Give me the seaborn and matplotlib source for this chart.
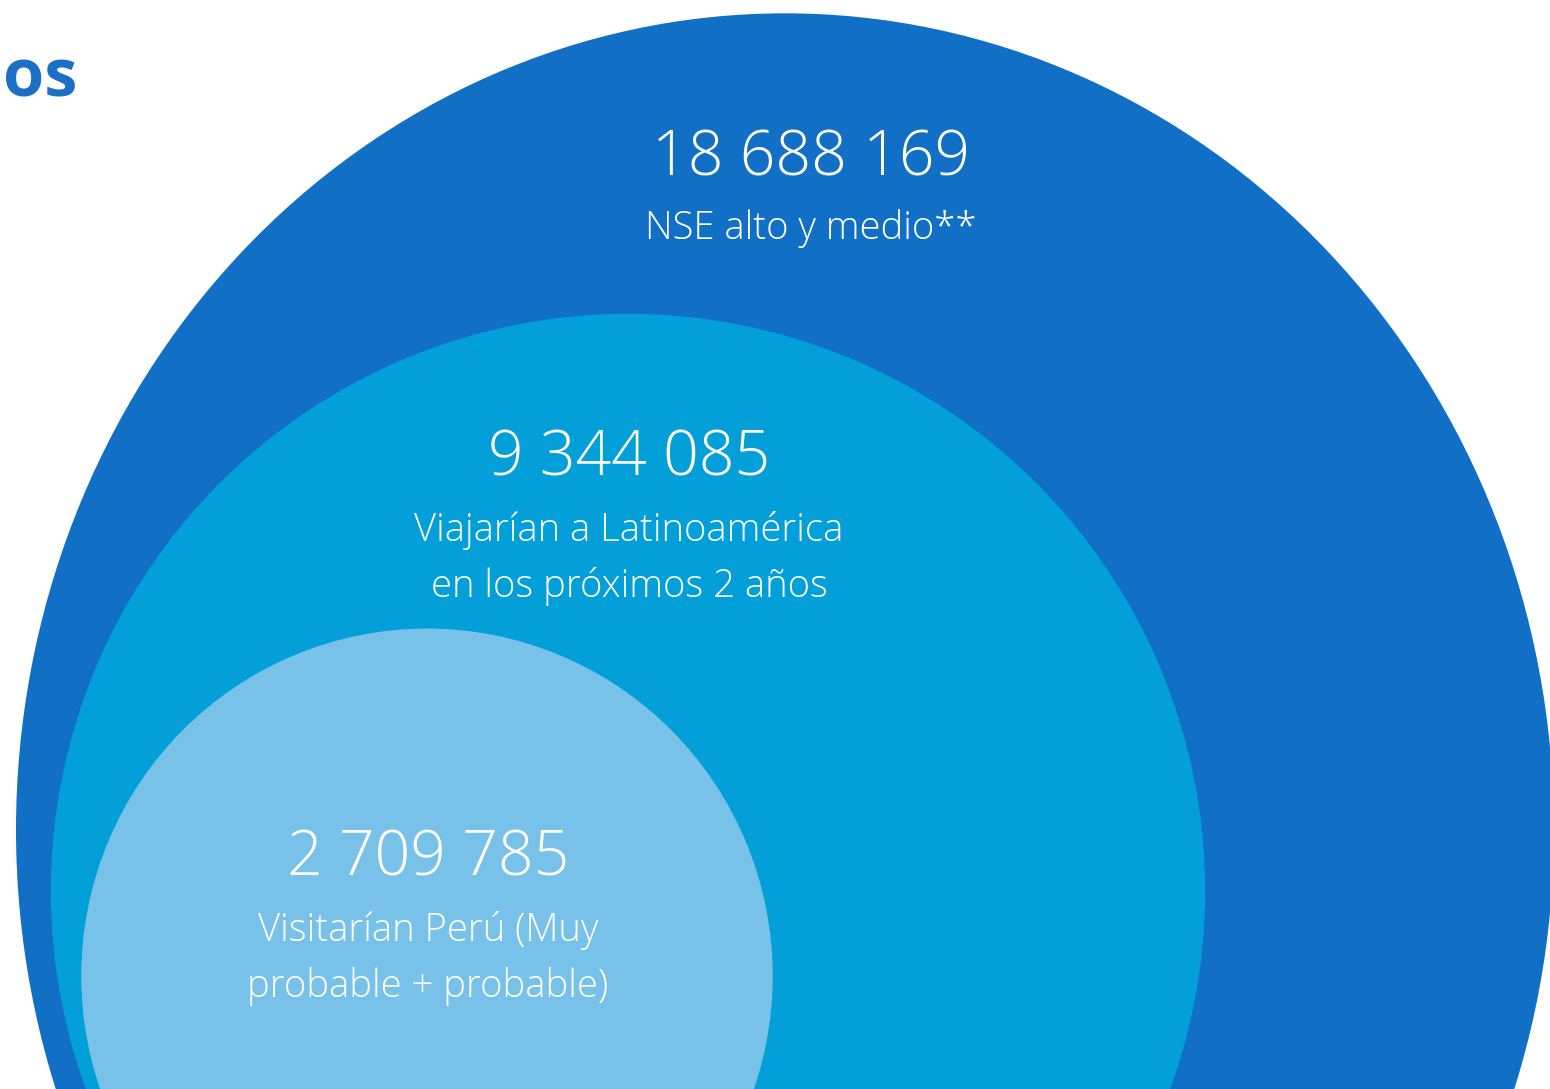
import matplotlib
matplotlib.use("Agg")
import matplotlib.pyplot as plt
from matplotlib.patches import Ellipse
import seaborn as sns

# data
values = [18688169, 9344085, 2709785]
labels = ["NSE alto y medio**",
          "Viajarían a Latinoamérica\nen los próximos 2 años",
          "Visitarían Perú (Muy\nprobable + probable)"]
colors = ["#1170C6", "#039FD9", "#78C1E8"]
title_tail = "os"

sns.set_theme(style="white")
plt.rcParams["font.family"] = ["Open Sans", "DejaVu Sans"]

fig = plt.figure(figsize=(15.5, 10.89), dpi=100)
ax = fig.add_axes([0, 0, 1, 1])
ax.set_xlim(0, 1550)
ax.set_ylim(1089, 0)
ax.axis("off")

# radius grows with value ** 0.414 (as in the original graphic)
k = 769 / values[0] ** 0.414
radii = [k * v ** 0.414 for v in values]

centers = [(785, 830), (628, 891), (427, 976)]
stretch = [1.062, 1.0, 1.005]
num_y = [159, 459, 859]
lab_y = [229, 511, 911]
num_x = [811, 629, 428]

for i, v in enumerate(values):
    r = radii[i]
    ax.add_patch(Ellipse(centers[i], 2 * r, 2 * r * stretch[i],
                         facecolor=colors[i], edgecolor="none", zorder=i))
    txt = f"{v:,}".replace(",", " ")
    ax.text(num_x[i], num_y[i], txt, ha="center", va="center", color="white",
            fontsize=45, fontweight="light", zorder=10)
    ax.text(num_x[i], lab_y[i], labels[i], ha="center", va="top" if i else "center",
            color="white", fontsize=27.5, fontweight="light", linespacing=1.55,
            zorder=10)

ax.text(3, 79, title_tail, ha="left", va="center", color="#1C6FC5",
        fontsize=48, fontweight="bold")

fig.savefig("out.png", dpi=100)
plt.close(fig)
